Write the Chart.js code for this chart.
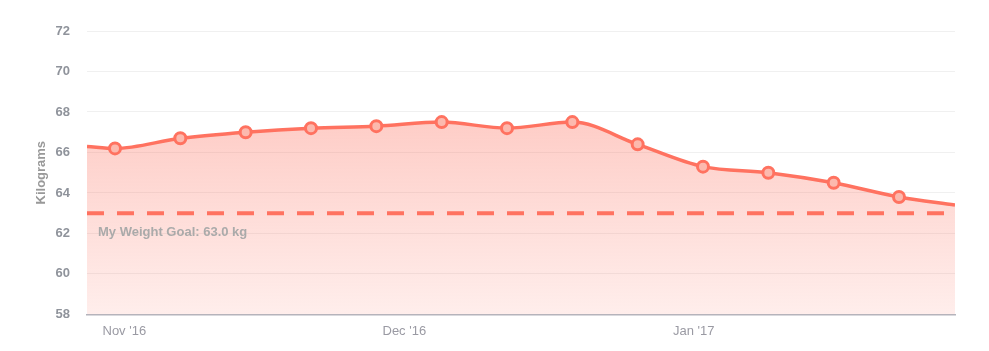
<!DOCTYPE html>
<html>
<head>
<meta charset="utf-8">
<script src="https://cdn.jsdelivr.net/npm/chart.js@4/dist/chart.umd.min.js"></script>
<style>
html,body{margin:0;padding:0;background:#fff;}
#wrap{width:989px;height:351px;}
</style>
</head>
<body>
<div id="wrap"><canvas id="c" width="989" height="351"></canvas></div>
<script>
// ---- data ----
const dates = ['2016-10-28','2016-10-31','2016-11-07','2016-11-14','2016-11-21','2016-11-28','2016-12-05','2016-12-12','2016-12-19','2016-12-26','2017-01-02','2017-01-09','2017-01-16','2017-01-23','2017-01-29'];
const weights = [66.3, 66.2, 66.7, 67.0, 67.2, 67.3, 67.5, 67.2, 67.5, 66.4, 65.3, 65.0, 64.5, 63.8, 63.4];
const markerShown = [false,true,true,true,true,true,true,true,true,true,true,true,true,true,false];
const goalWeight = 63.0;
const goalLabel = 'My Weight Goal: 63.0 kg';
const tickMonths = ['2016-11-01','2016-12-01','2017-01-01'];
const tickLabels = ["Nov '16","Dec '16","Jan '17"];
const yTicks = [58,60,62,64,66,68,70,72];
const yTitle = 'Kilograms';

const DAY = 86400000;
const base = Date.parse('2016-11-01');
const toX = d => (Date.parse(d) - base) / DAY;
const xMin = toX(dates[0]);
const xMax = toX(dates[dates.length-1]);
const tickX = tickMonths.map(toX);

const lineColor = '#ff7260';
const FONT = '"Liberation Sans", Arial, sans-serif';

const goalPlugin = {
  id: 'goalLabel',
  afterDatasetsDraw(chart){
    const {ctx, chartArea, scales} = chart;
    const y = scales.y.getPixelForValue(goalWeight);
    ctx.save();
    ctx.font = 'bold 13px ' + FONT;
    ctx.fillStyle = '#aaaaaa';
    ctx.textBaseline = 'middle';
    ctx.fillText(goalLabel, chartArea.left + 11, y + 19);
    ctx.restore();
  }
};

new Chart(document.getElementById('c'), {
  type: 'line',
  data: {
    datasets: [
      {
        label: 'goal',
        data: [{x: xMin, y: goalWeight}, {x: xMax, y: goalWeight}],
        borderColor: lineColor,
        borderWidth: 4,
        borderDash: [17, 13],
        pointRadius: 0,
        fill: false,
        order: 0
      },
      {
        label: 'weight',
        data: dates.map((d,i)=>({x: toX(d), y: weights[i]})),
        borderColor: lineColor,
        borderWidth: 3.5,
        cubicInterpolationMode: 'monotone',
        pointRadius: markerShown.map(s => s ? 5.5 : 0),
        pointBorderWidth: 3,
        pointBorderColor: lineColor,
        pointBackgroundColor: '#fcb9ae',
        fill: 'origin',
        backgroundColor(ctx){
          const ca = ctx.chart.chartArea;
          if (!ca) return 'rgba(255,114,96,0.3)';
          const g = ctx.chart.ctx.createLinearGradient(0, ca.top + 90, 0, ca.bottom);
          g.addColorStop(0, 'rgba(252,112,94,0.35)');
          g.addColorStop(1, 'rgba(252,112,94,0.12)');
          return g;
        },
        order: 1
      }
    ]
  },
  options: {
    responsive: false,
    animation: false,
    layout: { padding: { left: 34, right: 34, top: 31, bottom: 3 } },
    plugins: { legend: { display: false }, tooltip: { enabled: false } },
    scales: {
      x: {
        type: 'linear',
        min: xMin, max: xMax,
        afterBuildTicks(axis){ axis.ticks = tickX.map(v => ({value: v})); },
        ticks: {
          autoSkip: false, maxRotation: 0,
          color: '#9a9aa3',
          font: { family: FONT, size: 13 },
          padding: 9,
          callback(v){ const i = tickX.indexOf(v); return i >= 0 ? tickLabels[i] : ''; }
        },
        grid: { display: false, drawTicks: false },
        border: { display: true, color: '#b4b4bc', width: 1.5 }
      },
      y: {
        min: yTicks[0], max: yTicks[yTicks.length-1],
        afterBuildTicks(axis){ axis.ticks = yTicks.map(v => ({value: v})); },
        afterFit(axis){ axis.width = 53; },
        ticks: {
          color: '#8f939b',
          font: { family: FONT, size: 13, weight: 'bold' },
          padding: 17
        },
        grid: { color: '#f0f0f0', drawTicks: false },
        border: { display: false },
        title: {
          display: true, text: yTitle, color: '#999999',
          font: { family: FONT, size: 13, weight: 'bold' },
          padding: { top: 0, bottom: 0 }
        }
      }
    }
  },
  plugins: [goalPlugin]
});
</script>
</body>
</html>
